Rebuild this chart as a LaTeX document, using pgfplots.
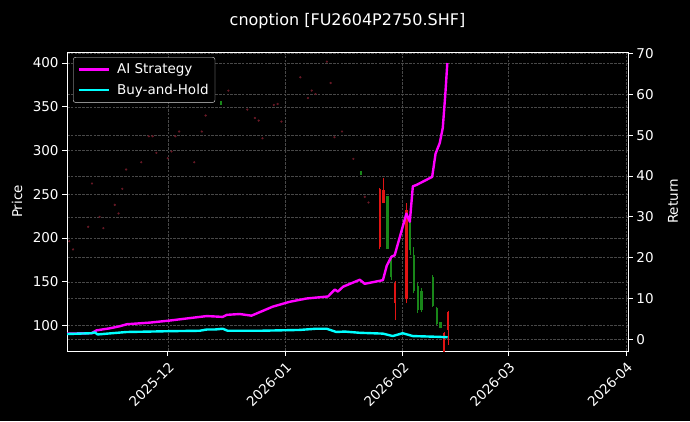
\documentclass[border=0pt]{standalone}
\usepackage{fontspec}
\setmainfont{DejaVu Sans}
\usepackage{pgfplots}
\usepackage{pgfplotstable}
\pgfplotsset{compat=1.18}

\definecolor{gridc}{RGB}{72,72,72}
\definecolor{cred}{RGB}{225,20,20}
\definecolor{cgreen}{RGB}{25,135,25}
\definecolor{cdot}{RGB}{105,25,38}
\definecolor{aimag}{RGB}{255,0,255}
\definecolor{bhcyan}{RGB}{0,255,255}

% red candles: bodies and wicks, one segment per candle (nan breaks the line)
\pgfplotstableread{
d y
56 189.3
56 255.5
56 nan
57 239.6
57 254.7
57 nan
60 125.7
60 148.5
60 nan
63 130.0
63 232.0
63 nan
73 65.0
73 91.4
73 nan
74 95.0
74 115.7
}\redbody
\pgfplotstableread{
d y
56 187.0
56 257.0
56 nan
57 239.6
57 268.7
57 nan
60 106.3
60 150.4
60 nan
63 125.3
63 239.5
63 nan
73 60.0
73 93.0
73 nan
74 77.7
74 116.5
}\redwick

\pgfplotstableread{
d y
14 352.0
14 357.0
14 nan
51 272.0
51 277.0
51 nan
58 187.3
58 247.8
58 nan
59 155.0
59 175.0
59 nan
64 186.0
64 218.5
64 nan
65 140.0
65 180.5
65 nan
66 118.0
66 145.0
66 nan
67 118.0
67 140.0
67 nan
70 122.0
70 155.0
70 nan
71 102.0
71 120.0
71 nan
72 97.0
72 104.0
}\greenbody
\pgfplotstableread{
d y
59 152.0
59 180.5
59 nan
64 180.5
64 218.5
64 nan
65 136.7
65 190.0
65 nan
66 114.3
66 148.5
66 nan
67 115.4
67 142.8
67 nan
70 121.5
70 157.6
70 nan
71 100.6
71 121.5
71 nan
72 96.8
72 104.3
}\greenwick

\pgfplotstableread{
d p
-26 196.4
-25 187.0
-21 212.8
-20 262.3
-18 224.2
-17 211.3
-14 237.9
-13 228.1
-12 256.2
-11 278.3
-7 286.6
-5 316.3
-4 316.3
-3 297.3
0 291.2
1 298.9
2 316.3
3 321.7
7 286.6
9 321.7
10 340.0
16 368.5
21 346.8
23 337.2
24 334.2
25 314.0
28 352.1
29 353.2
30 333.1
35 383.7
37 360.0
38 368.5
39 364.6
42 401.6
43 377.2
44 315.2
46 321.7
49 290.4
52 247.0
53 240.6
}\dots

\pgfplotstableread{
d r
-26.6 1.4
-20.1 1.5
-18.8 2.2
-15.3 2.7
-12.7 3.2
-10.8 3.7
-4.7 4.1
0.5 4.6
5.8 5.2
10.3 5.7
14.5 5.5
15.6 6.0
19.0 6.2
22.1 5.8
27.7 8.0
32.2 9.2
36.6 10.0
42.3 10.5
44.1 12.2
44.9 11.7
46.3 12.9
50.7 14.6
52.0 13.6
56.8 14.5
57.8 18.0
59.0 20.2
59.9 20.6
63.0 30.8
63.9 28.8
64.7 37.5
65.6 37.8
69.8 39.8
70.7 45.5
71.8 48.1
72.6 51.8
73.3 60.4
73.8 67.7
}\aistrat

\pgfplotstableread{
d r
-26.6 1.3
-20.1 1.5
-19.3 1.7
-18.5 1.2
-10.8 1.8
-4.7 1.9
0.5 2.0
8.4 2.1
10.3 2.4
12.4 2.4
14.5 2.6
15.8 2.1
24.3 2.1
34.8 2.3
39.2 2.6
41.9 2.6
44.5 1.8
46.7 1.9
50.7 1.6
56.8 1.4
59.4 0.8
62.0 1.5
64.7 0.8
71.8 0.6
73.9 0.5
}\bhold

\begin{document}
\begin{tikzpicture}[x=1pt,y=1pt]
\fill[black] (0,0) rectangle (690,421);
\useasboundingbox (0,0) rectangle (690,421);
\pgfplotsset{
  every axis/.append style={
    at={(67pt,70pt)}, anchor=south west,
    width=561pt, height=299pt, scale only axis,
    xmin=-26.6, xmax=121.5,
    axis line style={white, line width=1pt},
    tick style={white, line width=1pt},
    major tick length=4.9pt,
    tick align=outside,
    ticklabel style={text=white, font=\fontsize{13.5}{16}\selectfont},
    /pgf/number format/assume math mode=true,
    grid style={gridc, line width=0.5pt, dash pattern=on 2.6pt off 1.2pt},
    label style={text=white, font=\fontsize{13.5}{16}\selectfont},
  }
}
% grid only (drawn first, beneath everything)
\begin{axis}[
  ymin=70.9, ymax=412.6,
  axis line style={draw=none}, tick style={draw=none},
  xtick={0,31,62,90,121}, xticklabels={},
  ytick={100,150,...,400}, yticklabels={},
  extra y ticks={84.24,130.88,177.52,224.16,270.80,317.44,364.09,410.73},
  extra y tick labels={},
  extra y tick style={ymajorgrids=true, tick style={draw=none}},
  xmajorgrids, ymajorgrids,
]
\addplot[draw=none] coordinates {(0,100)};
\end{axis}
% price axis
\begin{axis}[
  ymin=70.9, ymax=412.6,
  xtick={0,31,62,90,121},
  xticklabels={2025-12,2026-01,2026-02,2026-03,2026-04},
  xticklabel style={rotate=45, anchor=north east},
  ytick={100,150,...,400},
  xtick pos=left, ytick pos=left,
  ylabel={Price},
  ylabel style={at={(axis description cs:-0.0891,0.5)}, anchor=center},
  unbounded coords=jump,
]
\addplot[only marks, mark=*, mark size=0.9pt, cdot] table[x=d, y=p] {\dots};
\addplot[cred, line width=1pt] table[x=d, y=y] {\redwick};
\addplot[cred, line width=2.4pt] table[x=d, y=y] {\redbody};
\addplot[cgreen, line width=1pt] table[x=d, y=y] {\greenwick};
\addplot[cgreen, line width=2.4pt] table[x=d, y=y] {\greenbody};
\end{axis}
% return axis
\begin{axis}[
  ymin=-2.86, ymax=70.4,
  axis x line=none, axis y line*=right,
  ytick={0,10,...,70},
  ylabel={Return},
  ylabel style={at={(axis description cs:1.0802,0.5)}, anchor=center},
  legend cell align=left,
  legend image code/.code={\draw[#1] (0pt,0pt) -- (30pt,0pt);},
  legend style={at={(axis description cs:0.0107,0.983)}, anchor=north west,
    fill=black, draw=white!85!black, text=white, rounded corners=2.5pt,
    font=\fontsize{13.5}{16}\selectfont, row sep=5pt, inner sep=4.5pt,
    /tikz/every odd column/.append style={column sep=5pt}},
]
\addplot[aimag, line width=2.4pt, line join=round] table[x=d, y=r] {\aistrat};
\addlegendentry{AI Strategy}
\addplot[bhcyan, line width=2.4pt, line join=round] table[x=d, y=r] {\bhold};
\addlegendentry{Buy-and-Hold}
\end{axis}
\node[text=white, font=\fontsize{16}{19}\selectfont] at (347.5,400) {cnoption [FU2604P2750.SHF]};
\end{tikzpicture}
\end{document}
